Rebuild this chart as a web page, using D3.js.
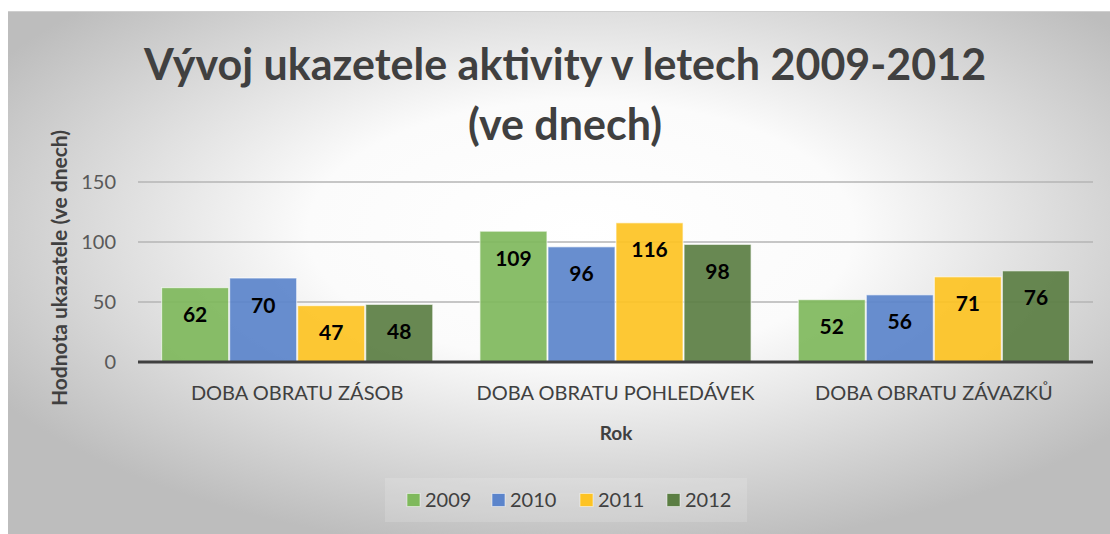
<!DOCTYPE html>
<html>
<head>
<meta charset="utf-8">
<script src="https://cdn.jsdelivr.net/npm/d3@7"></script>
<style>
  body { margin: 0; background: #fff; }
  text { font-family: Lato, "Open Sans", sans-serif; }
</style>
</head>
<body>
<div id="chart"></div>
<script>
// hodnoty (dny)
var categories = ['DOBA OBRATU ZÁSOB', 'DOBA OBRATU POHLEDÁVEK', 'DOBA OBRATU ZÁVAZKŮ'];
var years = ['2009', '2010', '2011', '2012'];
var values2009 = [62, 109, 52];
var values2010 = [70, 96, 56];
var values2011 = [47, 116, 71];
var values2012 = [48, 98, 76];
var yTicks = [0, 50, 100, 150];
var colors = ['#7fb95c', '#5b84cb', '#fdc323', '#5b7e43'];

var series = [values2009, values2010, values2011, values2012];

var width = 1110, height = 534;
var svg = d3.select('#chart').append('svg')
  .attr('width', width)
  .attr('height', height);

// pozadi s radialnim prechodem
var defs = svg.append('defs');
var grad = defs.append('radialGradient')
  .attr('id', 'bg')
  .attr('cx', '52%').attr('cy', '42%').attr('r', '62%');
grad.append('stop').attr('offset', '0%').attr('stop-color', '#ffffff');
grad.append('stop').attr('offset', '40%').attr('stop-color', '#fbfbfb');
grad.append('stop').attr('offset', '100%').attr('stop-color', '#bdbdbd');

svg.append('rect')
  .attr('x', 8).attr('y', 11)
  .attr('width', width - 8).attr('height', height - 11)
  .attr('fill', 'url(#bg)');
svg.append('line')
  .attr('x1', 8).attr('x2', width).attr('y1', 11.5).attr('y2', 11.5)
  .attr('stroke', '#cfcfcf');

var x0 = d3.scaleBand()
  .domain(categories)
  .range([138, 1093])
  .paddingInner(0.145)
  .paddingOuter(0.0725);

var x1 = d3.scaleBand()
  .domain(years)
  .range([0, x0.bandwidth()]);

var y = d3.scaleLinear()
  .domain([0, 150])
  .range([362, 182]);

// mrizka
svg.append('g').selectAll('line')
  .data(yTicks.filter(function(d) { return d > 0; }))
  .enter().append('line')
  .attr('x1', 138).attr('x2', 1093)
  .attr('y1', function(d) { return y(d); })
  .attr('y2', function(d) { return y(d); })
  .attr('stroke', '#b5b5b5')
  .attr('stroke-width', 1.3);

// popisky osy y
svg.append('g').selectAll('text')
  .data(yTicks)
  .enter().append('text')
  .attr('x', 116)
  .attr('y', function(d) { return y(d); })
  .attr('dy', '0.36em')
  .attr('text-anchor', 'end')
  .attr('font-size', 20)
  .attr('fill', '#595959')
  .text(function(d) { return d; });

// sloupce
var groups = svg.append('g').selectAll('g')
  .data(categories)
  .enter().append('g')
  .attr('transform', function(d) { return 'translate(' + x0(d) + ',0)'; });

groups.selectAll('rect')
  .data(function(d, i) { return years.map(function(yr, j) { return {year: yr, value: series[j][i], color: colors[j]}; }); })
  .enter().append('rect')
  .attr('x', function(d) { return x1(d.year) + 0.5; })
  .attr('y', function(d) { return y(d.value); })
  .attr('width', x1.bandwidth() - 1)
  .attr('height', function(d) { return y(0) - y(d.value); })
  .attr('fill', function(d) { return d.color; })
  .attr('fill-opacity', 0.92)
  .attr('stroke', '#ffffff')
  .attr('stroke-opacity', 0.6)
  .attr('stroke-width', 1.2);

groups.selectAll('text')
  .data(function(d, i) { return years.map(function(yr, j) { return {year: yr, value: series[j][i]}; }); })
  .enter().append('text')
  .attr('x', function(d) { return x1(d.year) + x1.bandwidth() / 2; })
  .attr('y', function(d) { return y(d.value) + 27; })
  .attr('dy', '0.36em')
  .attr('text-anchor', 'middle')
  .attr('font-size', 21)
  .attr('font-weight', 'bold')
  .attr('fill', '#000')
  .text(function(d) { return d.value; });

// osa x
svg.append('line')
  .attr('x1', 138).attr('x2', 1093)
  .attr('y1', y(0)).attr('y2', y(0))
  .attr('stroke', '#404040')
  .attr('stroke-width', 3);

svg.append('g').selectAll('text')
  .data(categories)
  .enter().append('text')
  .attr('x', function(d) { return x0(d) + x0.bandwidth() / 2; })
  .attr('y', 393)
  .attr('dy', '0.36em')
  .attr('text-anchor', 'middle')
  .attr('font-size', 20)
  .attr('fill', '#404040')
  .text(function(d) { return d; });

// nadpisy
svg.append('text')
  .attr('x', 565).attr('y', 65)
  .attr('dy', '0.36em')
  .attr('text-anchor', 'middle')
  .attr('font-size', 43)
  .attr('font-weight', 'bold')
  .attr('fill', '#404040')
  .text('Vývoj ukazetele aktivity v letech 2009-2012');
svg.append('text')
  .attr('x', 565).attr('y', 125)
  .attr('dy', '0.36em')
  .attr('text-anchor', 'middle')
  .attr('font-size', 43)
  .attr('font-weight', 'bold')
  .attr('fill', '#404040')
  .text('(ve dnech)');

svg.append('text')
  .attr('x', 616).attr('y', 433)
  .attr('dy', '0.36em')
  .attr('text-anchor', 'middle')
  .attr('font-size', 19)
  .attr('font-weight', 'bold')
  .attr('fill', '#404040')
  .text('Rok');

svg.append('text')
  .attr('transform', 'translate(59,268) rotate(-90)')
  .attr('dy', '0.36em')
  .attr('text-anchor', 'middle')
  .attr('font-size', 21)
  .attr('font-weight', 'bold')
  .attr('fill', '#404040')
  .text('Hodnota ukazatele (ve dnech)');

// legenda
svg.append('rect')
  .attr('x', 385).attr('y', 478)
  .attr('width', 362).attr('height', 44)
  .attr('fill', '#ffffff').attr('fill-opacity', 0.15);

var legendX = [407, 492, 580, 667];
var legend = svg.append('g').selectAll('g')
  .data(years)
  .enter().append('g')
  .attr('transform', function(d, i) { return 'translate(' + legendX[i] + ',500)'; });
legend.append('rect')
  .attr('x', 0).attr('y', -6.5)
  .attr('width', 13).attr('height', 13)
  .attr('fill', function(d, i) { return colors[i]; })
  .attr('stroke', '#ffffff').attr('stroke-opacity', 0.5);
legend.append('text')
  .attr('x', 18).attr('y', 0)
  .attr('dy', '0.36em')
  .attr('font-size', 20)
  .attr('fill', '#404040')
  .text(function(d) { return d; });
</script>
</body>
</html>
